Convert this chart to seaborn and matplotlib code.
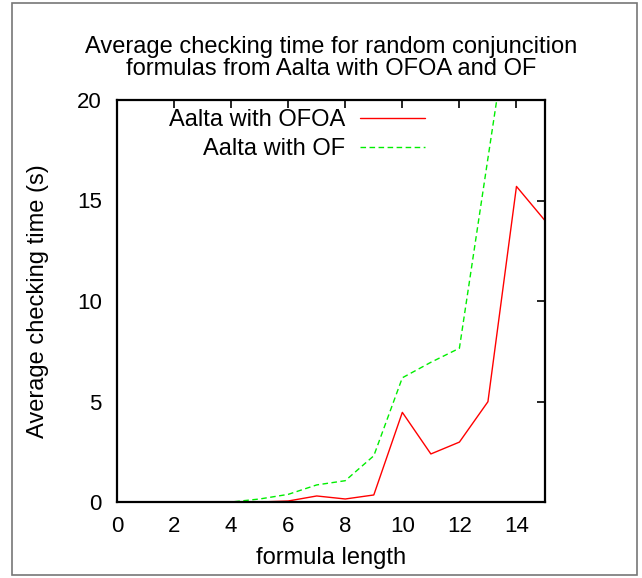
import matplotlib
matplotlib.use("Agg")
import matplotlib.pyplot as plt
import seaborn as sns
import pandas as pd
from matplotlib.patches import Rectangle

formula_length = list(range(16))
ofoa_time = [0, 0, 0, 0, 0, 0, 0.05, 0.3, 0.15, 0.35, 4.46, 2.39, 2.98, 4.99, 15.7, 14.0]
of_time = [0, 0, 0, 0, 0, 0.15, 0.38, 0.85, 1.06, 2.3, 6.18, 6.95, 7.65, 17.1, 26.5, 30.0]
series_names = ["Aalta with OFOA", "Aalta with OF"]
x_ticks = [0, 2, 4, 6, 8, 10, 12, 14]
y_ticks = [0, 5, 10, 15, 20]

sns.set_theme(style="white")
plt.rcParams['font.family'] = ['Liberation Sans', 'DejaVu Sans']
plt.rcParams['text.color'] = 'black'
plt.rcParams['axes.labelcolor'] = 'black'

df = pd.DataFrame({
    "x": formula_length * 2,
    "y": ofoa_time + of_time,
    "series": [series_names[0]] * len(ofoa_time) + [series_names[1]] * len(of_time),
})

fig = plt.figure(figsize=(6.42, 5.78), dpi=100)
ax = fig.add_axes([117/642, 1 - 502/578, (545-117)/642, (502-100)/578])

palette = {series_names[0]: "#ff0000", series_names[1]: "#00ee00"}
sns.lineplot(data=df, x="x", y="y", hue="series", style="series",
             dashes={series_names[0]: "", series_names[1]: (4, 2.5)},
             palette=palette, linewidth=1.0, ax=ax, legend=True)

ax.set_xlim(0, 15)
ax.set_ylim(0, 20)
ax.set_xticks(x_ticks)
ax.set_yticks(y_ticks)
ax.tick_params(direction="in", length=6, width=1.2, top=True, right=True,
               labelsize=16, colors="black", pad=10)
ax.tick_params(axis="y", pad=11)
for s in ax.spines.values():
    s.set_color("black")
    s.set_linewidth(1.6)
    s.set_visible(True)

ax.set_xlabel("formula length", fontsize=17, labelpad=7)
ax.set_ylabel("Average checking time (s)", fontsize=17, labelpad=20)
ax.set_title("Average checking time for random conjuncition\nformulas from Aalta with OFOA and OF",
             fontsize=17, pad=18, linespacing=1.0)

leg = ax.legend(loc="upper right", bbox_to_anchor=(0.72, 0.977), frameon=False,
                markerfirst=False, fontsize=17, handlelength=2.75, handletextpad=0.65,
                labelspacing=0.3, borderaxespad=0, borderpad=0)
for t in leg.get_texts():
    t.set_ha("right")

fig.patches.append(Rectangle((12/642, 3/578), (637-12)/642, (575-3)/578,
                             transform=fig.transFigure, fill=False,
                             edgecolor="#777777", linewidth=1.2))

fig.savefig("out.png", dpi=100)
